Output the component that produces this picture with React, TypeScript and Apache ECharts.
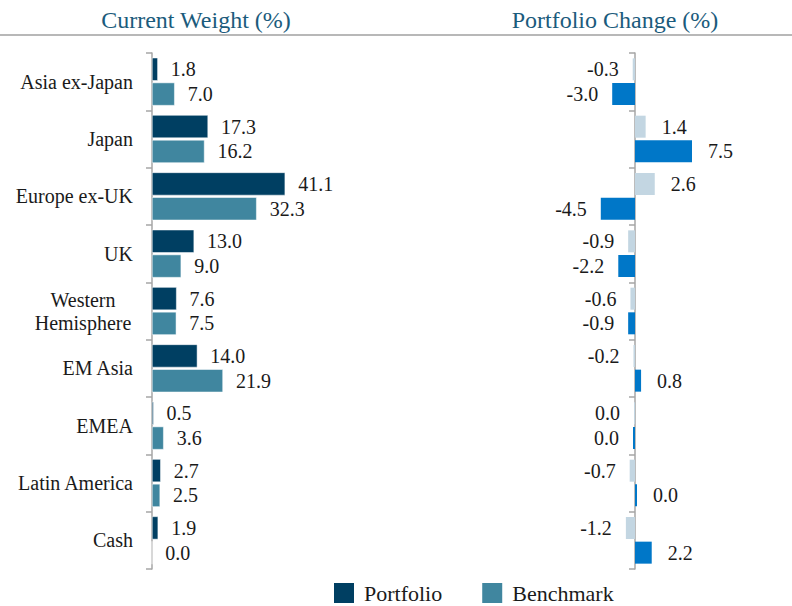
import React, { useEffect, useRef } from "react";
import * as echarts from "echarts";

const categories = [
  "Asia ex-Japan",
  "Japan",
  "Europe ex-UK",
  "UK",
  "Western Hemisphere",
  "EM Asia",
  "EMEA",
  "Latin America",
  "Cash",
];
const portfolio = [1.8, 17.3, 41.1, 13.0, 7.6, 14.0, 0.5, 2.7, 1.9];
const benchmark = [7.0, 16.2, 32.3, 9.0, 7.5, 21.9, 3.6, 2.5, 0.0];
const changeA = [-0.3, 1.4, 2.6, -0.9, -0.6, -0.2, -0.04, -0.7, -1.2];
const changeB = [-3.0, 7.5, -4.5, -2.2, -0.9, 0.8, -0.04, 0.04, 2.2];
const titles = ["Current Weight (%)", "Portfolio Change (%)"];

const FONT = "'Liberation Serif', 'DejaVu Serif', serif";
const TXT = "#1a1a1a";

const fmt = (v: number) => {
  const r = Math.abs(v) < 0.05 ? 0 : v;
  return r.toFixed(1);
};

const withLabels = (arr: number[], posDist: number, negDist: number) =>
  arr.map((v) => ({
    value: v,
    label: { position: v < 0 ? "left" : "right", distance: v < 0 ? negDist : posDist },
  }));

export default function App() {
  const ref = useRef<HTMLDivElement>(null);
  useEffect(() => {
    if (!ref.current) return;
    const chart = echarts.init(ref.current, null, { renderer: "svg" });
    const labelBase = {
      show: true,
      fontFamily: FONT,
      fontSize: 20,
      color: TXT,
      formatter: (p: any) => fmt(p.value),
    };
    const yBase = {
      type: "category" as const,
      data: categories,
      inverse: true,
      axisLine: { show: true, lineStyle: { color: "#a6a6a6", width: 1.5 } },
      axisTick: { show: true, length: 6, lineStyle: { color: "#a6a6a6", width: 1.5 } },
      splitLine: { show: false },
    };
    chart.setOption({
      animation: false,
      backgroundColor: "#ffffff",
      textStyle: { fontFamily: FONT },
      graphic: [
        {
          type: "text",
          x: 196,
          y: 20,
          style: {
            text: titles[0],
            fontFamily: FONT,
            fontSize: 24,
            fill: "#1b5b7c",
            textAlign: "center",
            textVerticalAlign: "middle",
          },
        },
        {
          type: "text",
          x: 615,
          y: 20,
          style: {
            text: titles[1],
            fontFamily: FONT,
            fontSize: 24,
            fill: "#1b5b7c",
            textAlign: "center",
            textVerticalAlign: "middle",
          },
        },
        {
          type: "line",
          shape: { x1: 0, y1: 35, x2: 792, y2: 35 },
          style: { stroke: "#b8b8b8", lineWidth: 2 },
        },
      ],
      legend: {
        data: ["Portfolio", "Benchmark"],
        left: 334,
        top: 582,
        padding: 0,
        itemWidth: 20,
        itemHeight: 20,
        itemGap: 40,
        icon: "rect",
        itemStyle: { borderWidth: 0 },
        textStyle: { fontFamily: FONT, fontSize: 22, color: TXT, padding: [0, 0, 0, 5] },
      },
      grid: [
        { left: 152, top: 53, width: 162, height: 516 },
        { left: 559, top: 53, width: 152, height: 516 },
      ],
      xAxis: [
        { type: "value", gridIndex: 0, min: 0, max: 50, show: false },
        { type: "value", gridIndex: 1, min: -10, max: 10, show: false },
      ],
      yAxis: [
        {
          ...yBase,
          gridIndex: 0,
          axisLabel: {
            fontFamily: FONT,
            fontSize: 20,
            color: TXT,
            margin: 19,
            formatter: (v: string) =>
              v === "Western Hemisphere" ? "{c|Western}\n{c|Hemisphere}" : v,
            rich: {
              c: {
                fontFamily: FONT,
                fontSize: 20,
                color: TXT,
                width: 100,
                align: "center",
                lineHeight: 23,
              },
            },
          },
        },
        { ...yBase, gridIndex: 1, axisLabel: { show: false } },
      ],
      series: [
        {
          name: "Portfolio",
          type: "bar",
          xAxisIndex: 0,
          yAxisIndex: 0,
          data: withLabels(portfolio, 13, 13),
          barWidth: 23,
          barGap: "8%",
          itemStyle: { color: "#003f62", borderColor: "#ffffff", borderWidth: 0.5 },
          label: labelBase,
        },
        {
          name: "Benchmark",
          type: "bar",
          xAxisIndex: 0,
          yAxisIndex: 0,
          data: withLabels(benchmark, 13, 13),
          barWidth: 23,
          barGap: "8%",
          itemStyle: { color: "#40869f", borderColor: "#ffffff", borderWidth: 0.5 },
          label: labelBase,
        },
        {
          name: "Change A",
          type: "bar",
          xAxisIndex: 1,
          yAxisIndex: 1,
          data: withLabels(changeA, 16, 14),
          barWidth: 22,
          barGap: "12%",
          barMinHeight: 1,
          itemStyle: { color: "#c3d6e2" },
          label: labelBase,
        },
        {
          name: "Change B",
          type: "bar",
          xAxisIndex: 1,
          yAxisIndex: 1,
          data: withLabels(changeB, 16, 14),
          barWidth: 22,
          barGap: "12%",
          barMinHeight: 2,
          itemStyle: { color: "#0077c8" },
          label: labelBase,
        },
      ],
    });
    return () => chart.dispose();
  }, []);
  return (
    <div
      ref={ref}
      style={{ position: "fixed", left: 0, top: 0, width: 792, height: 606 }}
    />
  );
}
